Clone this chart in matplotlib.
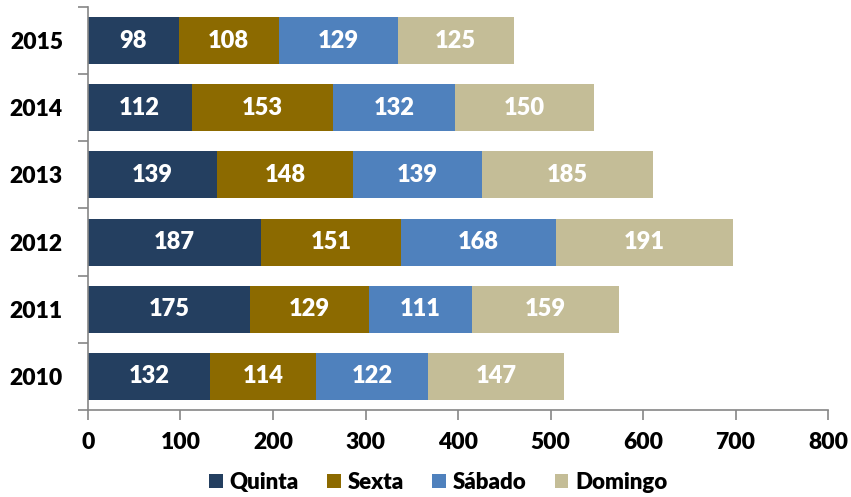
import matplotlib
matplotlib.use("Agg")
import matplotlib.pyplot as plt
from matplotlib.patches import Patch
import numpy as np

years = ["2010", "2011", "2012", "2013", "2014", "2015"]
series_names = ["Quinta", "Sexta", "Sábado", "Domingo"]
quinta = [132, 175, 187, 139, 112, 98]
sexta = [114, 129, 151, 148, 153, 108]
sabado = [122, 111, 168, 139, 132, 129]
domingo = [147, 159, 191, 185, 150, 125]
colors = ["#243F60", "#8C6A00", "#4F81BD", "#C4BD97"]
xticks = [0, 100, 200, 300, 400, 500, 600, 700, 800]

plt.rcParams['font.family'] = ['Lato', 'DejaVu Sans']
fig = plt.figure(figsize=(8.51, 4.97), dpi=100)
ax = fig.add_axes([0.1034, 0.175, 0.8696, 0.811])

y = np.arange(len(years))
left = np.zeros(len(years))
for name, vals, c in zip(series_names, [quinta, sexta, sabado, domingo], colors):
    vals = np.array(vals, dtype=float)
    ax.barh(y, vals, left=left, height=0.7, color=c, label=name)
    for yi, l, v in zip(y, left, vals):
        ax.text(l + v / 2, yi, f"{int(v)}", ha="center", va="center",
                color="white", fontsize=17, fontweight="heavy")
    left += vals

ax.set_xlim(0, 800)
ax.set_ylim(-0.5, 5.5)
ax.set_xticks(xticks)
ax.set_xticklabels([str(t) for t in xticks], fontsize=16.5, fontweight="heavy")
ax.set_yticks(y)
ax.set_yticklabels(years, fontsize=16.5, fontweight="heavy")
ax.set_yticks(np.arange(-0.5, 6, 1), minor=True)
ax.tick_params(axis="y", which="major", length=0, pad=18)
ax.tick_params(axis="y", which="minor", length=7, color="#868686", width=1.2)
ax.tick_params(axis="x", which="major", length=7, color="#868686", width=1.2, pad=9)
for s in ["top", "right"]:
    ax.spines[s].set_visible(False)
for s in ["left", "bottom"]:
    ax.spines[s].set_color("#868686")
    ax.spines[s].set_linewidth(1.2)

handles = [Patch(facecolor=c, label=n) for n, c in zip(series_names, colors)]
fig.legend(handles=handles, loc="center", bbox_to_anchor=(0.515, 0.03), ncol=4,
           frameon=False, prop={"size": 16, "weight": "heavy"},
           handlelength=0.6, handleheight=0.6, handletextpad=0.3, columnspacing=1.3)

fig.savefig("out.png", dpi=100)
